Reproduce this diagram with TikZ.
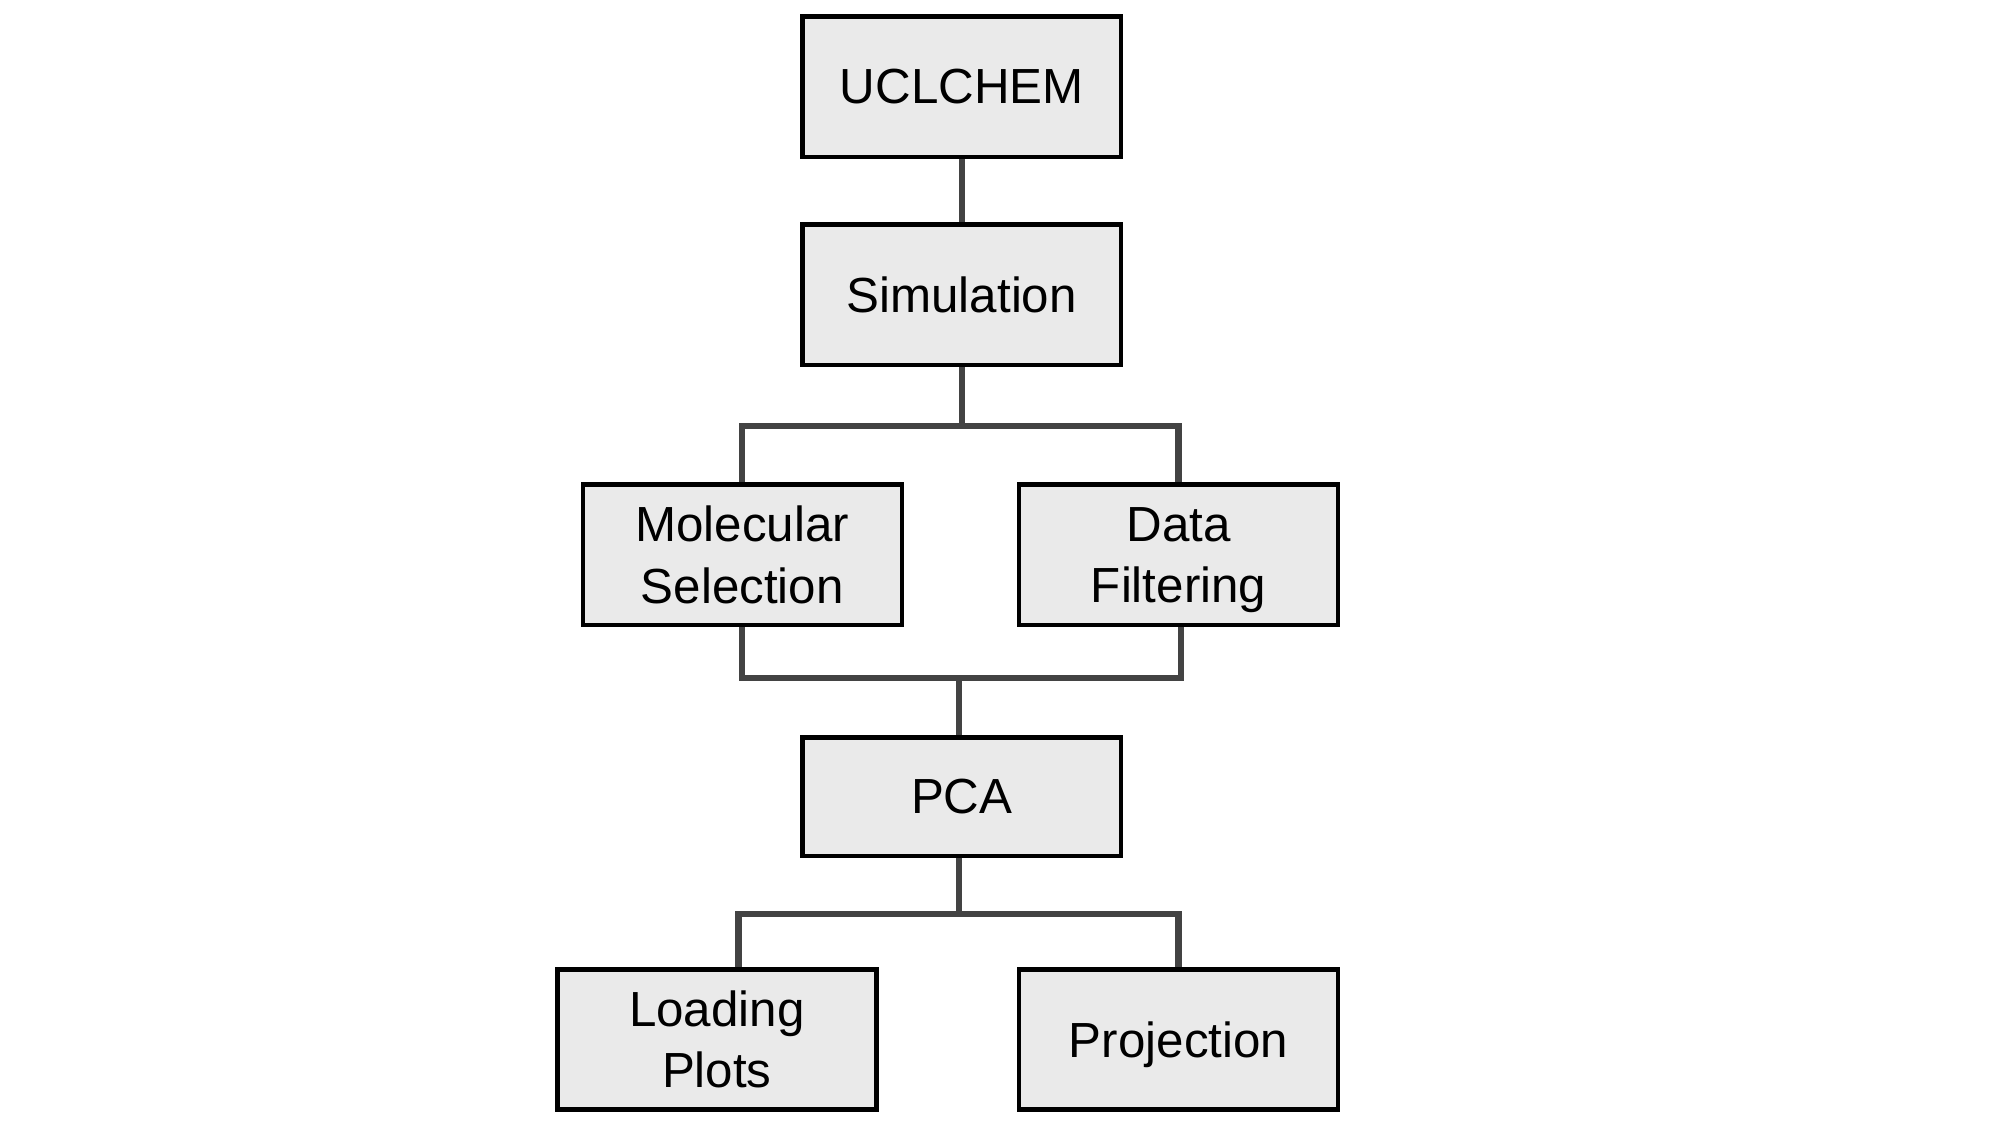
\documentclass[tikz,border=0pt]{standalone}
\usepackage{fontspec}
\setmainfont{Liberation Sans}
\usepackage{tikz}
\usetikzlibrary{positioning,calc}
\definecolor{boxfill}{RGB}{234,234,234}
\definecolor{linkgray}{RGB}{67,67,67}

\begin{document}
\begin{tikzpicture}[node distance=2cm,on grid,
    stage/.style={draw=black,line width=1pt,fill=boxfill,minimum width=2.5cm,
      minimum height=1.1cm,inner sep=0pt,align=center,
      font=\fontsize{11}{13.7}\selectfont},
    link/.style={draw=linkgray,line width=1.4pt}]
				  \useasboundingbox (0,0) rectangle (15.68,-8.82);
				  \node[stage]          (uc)   at (7.54,-0.68)             {UCLCHEM};
				  \node[stage]          (sim)  [below =1.63 of uc]         {Simulation};
				  \node[stage]          (mol)  [below left =2.04 and 1.72 of sim]  {Molecular\\Selection};
				  \node[stage,text depth=0pt] (data) [below right =2.04 and 1.70 of sim] {Data\\Filtering};
				  \node[stage,minimum height=0.93cm] (pca) [below =3.935 of sim] {PCA};
				  \node[stage]          (lp)   [below left =1.905 and 1.92 of pca]  {Loading\\Plots};
				  \node[stage,text depth=0pt] (proj) [below right =1.905 and 1.70 of pca] {Projection};

				\path (uc)     edge [link]    node   {} (sim);
				\coordinate (j1) at ($(sim.south)+(0,-0.46)$);
				\draw[link] (sim.south) -- (j1);
				\draw[link] (mol.north) |- (j1) -| (data.north);
				\coordinate (j2) at ($(mol.south)+(0,-0.40)$);
				\draw[link] (mol.south) |- ($(data.south |- j2)+(0.02,0)$) -- ($(data.south)+(0.02,0)$);
				\draw[link] ($(j2 -| pca.north)+(-0.02,0)$) -- ($(pca.north)+(-0.02,0)$);
				\coordinate (j3) at ($(pca.south)+(-0.02,-0.44)$);
				\draw[link] ($(pca.south)+(-0.02,0)$) -- (j3);
				\draw[link] ($(lp.north)+(0.17,0)$) |- (j3) -| (proj.north);
			\end{tikzpicture}
\end{document}
